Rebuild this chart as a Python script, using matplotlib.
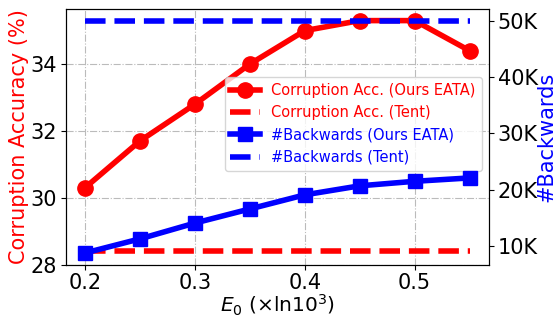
import matplotlib
matplotlib.use("Agg")
import matplotlib.pyplot as plt

e0 = [0.2, 0.25, 0.3, 0.35, 0.4, 0.45, 0.5, 0.55]
acc_eata = [30.3, 31.7, 32.8, 34.0, 35.0, 35.3, 35.3, 34.4]
acc_tent = [28.4] * len(e0)
bw_eata = [8.8, 11.3, 14.1, 16.6, 19.1, 20.7, 21.5, 22.1]
bw_tent = [50.0] * len(e0)
right_ticks = [10, 20, 30, 40, 50]
right_ticklabels = ["10K", "20K", "30K", "40K", "50K"]

fig = plt.figure(figsize=(5.58, 3.18), dpi=100)
ax = fig.add_axes([0.118, 0.168, 0.758, 0.804])
ax2 = ax.twinx()

l1, = ax.plot(e0, acc_eata, color="red", lw=4, marker="o", ms=11, label="Corruption Acc. (Ours EATA)")
l2, = ax.plot(e0, acc_tent, color="red", lw=4, ls="--", label="Corruption Acc. (Tent)")
l3, = ax2.plot(e0, bw_eata, color="blue", lw=4, marker="s", ms=10, label="#Backwards (Ours EATA)")
l4, = ax2.plot(e0, bw_tent, color="blue", lw=4, ls="--", label="#Backwards (Tent)")

ax.set_ylim(28, 35.65)
ax.set_yticks([28, 30, 32, 34])
ax.set_xticks([0.2, 0.3, 0.4, 0.5])
ax.grid(True, ls="-.", color="#bbbbbb", lw=0.8)
ax.tick_params(axis="y", labelsize=15, pad=3)
ax.tick_params(axis="x", labelsize=15, pad=2.5)
ax2.tick_params(labelsize=15, pad=3)
ax2.set_yticks(right_ticks)
ax2.set_yticklabels(right_ticklabels)
ax.set_ylabel("Corruption Accuracy (%)", color="red", fontsize=15, labelpad=1)
ax2.set_ylabel("#Backwards", color="blue", fontsize=15, labelpad=-1)
ax.set_xlabel(r"$E_0$ ($\times$ln$10^3$)", fontsize=14.5, labelpad=0)

leg = ax.legend(handles=[l1, l2, l3, l4], loc="center right", fontsize=10.5,
                bbox_to_anchor=(1.0, 0.55), framealpha=0.8)
for t, c in zip(leg.get_texts(), ["red", "red", "blue", "blue"]):
    t.set_color(c)

fig.savefig("out.png", dpi=100)
